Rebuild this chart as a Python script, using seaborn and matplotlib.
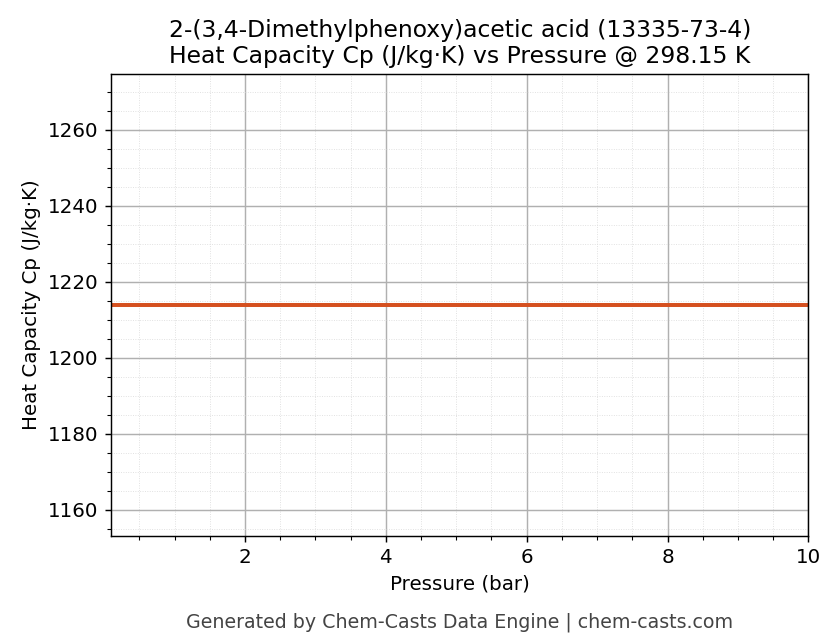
import matplotlib
matplotlib.use("Agg")
import matplotlib.pyplot as plt
import seaborn as sns
import numpy as np
import pandas as pd

pressure = [0.1, 1.0, 2.0, 3.0, 4.0, 5.0, 6.0, 7.0, 8.0, 9.0, 10.0]
cp = [1213.9] * len(pressure)

sns.set_style("ticks")
plt.rcParams['font.family'] = ['DejaVu Sans']
plt.rcParams.update({"text.color": "black", "axes.labelcolor": "black",
                     "xtick.color": "black", "ytick.color": "black",
                     "axes.edgecolor": "black", "font.size": 11})
fig, ax = plt.subplots(figsize=(836/130, 644/130), dpi=130)
df = pd.DataFrame({"p": pressure, "cp": cp})
sns.lineplot(data=df, x="p", y="cp", ax=ax, color="#d5501f", linewidth=2.2)
ax.set_xlim(0.1, 10)
ax.set_ylim(1213.9*0.95, 1213.9*1.05)
ax.minorticks_on()
ax.tick_params(labelsize=11)
ax.grid(which="major", color="#b0b0b0", linewidth=0.8)
ax.grid(which="minor", color="#dddddd", linewidth=0.5, linestyle=":")
ax.set_xlabel("Pressure (bar)", fontsize=11)
ax.set_ylabel("Heat Capacity Cp (J/kg·K)", fontsize=11, labelpad=4)
ax.set_title("2-(3,4-Dimethylphenoxy)acetic acid (13335-73-4)\nHeat Capacity Cp (J/kg·K) vs Pressure @ 298.15 K", fontsize=13)
fig.subplots_adjust(left=0.133, right=0.967, top=0.885, bottom=0.168)
fig.text(0.55, 0.025, "Generated by Chem-Casts Data Engine | chem-casts.com", ha="center", color="#444444", fontsize=10.5)
fig.savefig("out.png", dpi=130)
